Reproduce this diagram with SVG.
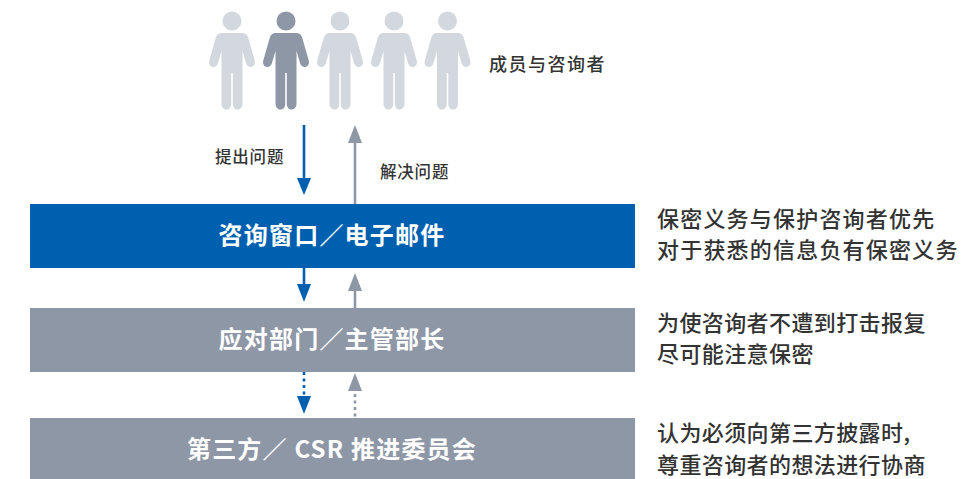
<svg xmlns="http://www.w3.org/2000/svg" width="973" height="479" viewBox="0 0 973 479">
<style>
text{font-family:"Noto Sans CJK SC","Noto Sans",sans-serif;}
.bar{font-size:24px;font-weight:700;fill:#fff;text-anchor:middle;letter-spacing:1.2px}
.side{font-size:22px;font-weight:500;fill:#333;letter-spacing:1.2px}
.tight{letter-spacing:.4px}
.small{font-size:16.500px;font-weight:500;fill:#333;letter-spacing:.8px}
.blue{stroke:#0060b0;stroke-width:2.6;fill:none}
.grey{stroke:#8e97a6;stroke-width:2.6;fill:none}
.dot{stroke-dasharray:3 3.5}
.fb{fill:#0060b0}.fg{fill:#8e97a6}
.light{fill:#d3d8df}.dark{fill:#8e97a6}
</style>
<defs>
<g id="person">
<circle cx="0" cy="21" r="9.5"/>
<path d="M-10.5 33H10.5C13 33 15 34.5 16 37L22.600 60C23.700 63.500 22.200 66 19.800 66.800C17.300 67.500 15.200 66.300 14.200 63.500L10.500 51V104C10.500 107.500 8 109.500 5.500 109.500C3 109.500 .8 107.500 .8 104V73H-.8V104C-.8 107.500 -3 109.500 -5.500 109.500C-8 109.500 -10.500 107.500 -10.500 104V51L-14.200 63.500C-15.200 66.300 -17.300 67.500 -19.800 66.800C-22.200 66 -23.700 63.500 -22.600 60L-16 37C-15 34.500 -13 33 -10.500 33Z"/>
</g>
</defs>
<g id="members">
<use href="#person" x="232" class="light"/>
<use href="#person" x="286" class="dark"/>
<use href="#person" x="340" class="light"/>
<use href="#person" x="394" class="light"/>
<use href="#person" x="447.500" class="light"/>
<text class="small" x="489" y="71" style="font-size:18px;letter-spacing:1.500px">成员与咨询者</text>
</g>
<g id="connectors">
<line class="blue" x1="304" y1="125" x2="304" y2="180"/>
<polygon class="fb" points="297,178 311,178 304,195"/>
<line class="grey" x1="355" y1="142" x2="355" y2="204"/>
<polygon class="fg" points="348,143 362,143 355,125"/>
<line class="blue" x1="304" y1="268" x2="304" y2="286"/>
<polygon class="fb" points="297,284 311,284 304,302"/>
<line class="grey" x1="355" y1="290" x2="355" y2="308"/>
<polygon class="fg" points="348,291 362,291 355,273"/>
<line class="blue dot" x1="304" y1="372" x2="304" y2="396"/>
<polygon class="fb" points="297,396 311,396 304,414"/>
<line class="grey dot" x1="355" y1="394" x2="355" y2="418"/>
<polygon class="fg" points="348,391 362,391 355,373"/>
<text class="small" x="215" y="163">提出问题</text>
<text class="small" x="380" y="178">解决问题</text>
</g>
<g id="node-window">
<rect x="30" y="204" width="605" height="64" fill="#0060b0"/>
<text class="bar" x="332" y="244">咨询窗口／电子邮件</text>
<text class="side" x="657" y="227">保密义务与保护咨询者优先</text>
<text class="side" x="657" y="258">对于获悉的信息负有保密义务</text>
</g>
<g id="node-dept">
<rect x="30" y="308" width="605" height="64" fill="#8e97a6"/>
<text class="bar" x="332" y="348">应对部门／主管部长</text>
<text class="side tight" x="657" y="331">为使咨询者不遭到打击报复</text>
<text class="side tight" x="657" y="362">尽可能注意保密</text>
</g>
<g id="node-csr">
<rect x="30" y="418" width="605" height="61" fill="#8e97a6"/>
<text class="bar" x="332" y="458">第三方／ CSR 推进委员会</text>
<text class="side tight" x="657" y="441">认为必须向第三方披露时,</text>
<text class="side tight" x="657" y="473">尊重咨询者的想法进行协商</text>
</g>
</svg>
